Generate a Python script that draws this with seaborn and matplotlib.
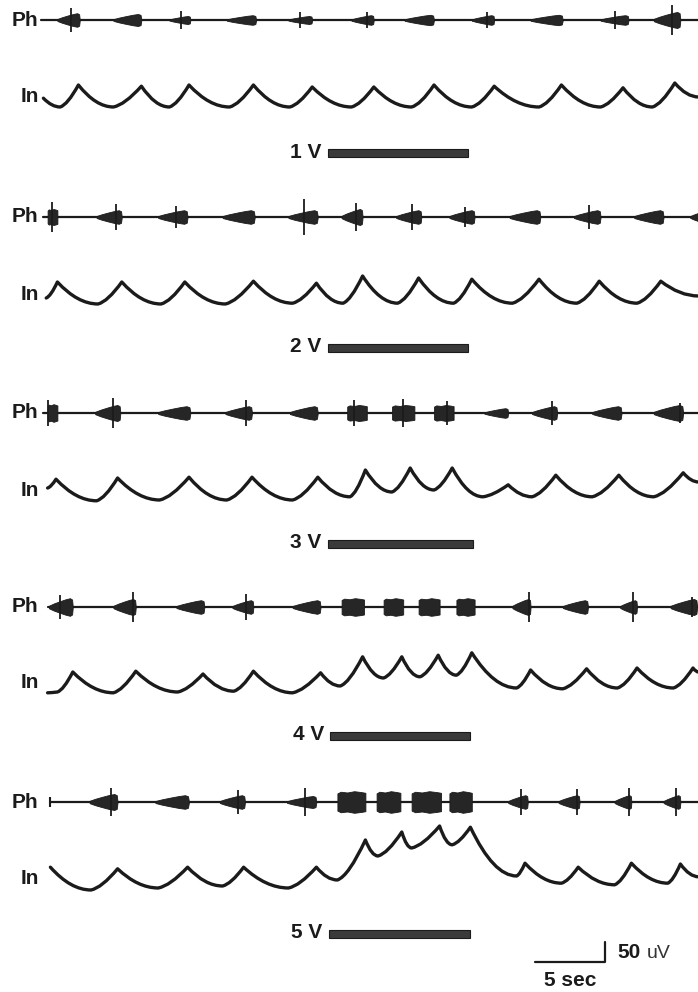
import numpy as np
import matplotlib
matplotlib.use("Agg")
import matplotlib.pyplot as plt
import seaborn as sns
from matplotlib.path import Path
from matplotlib.patches import PathPatch

# ------------------------------------------------------------------ data
# Stimulus intensities and stimulation periods (s)
stim_labels = ["1 V", "2 V", "3 V", "4 V", "5 V"]
stim_on = [20.4, 20.4, 20.4, 20.6, 20.5]
stim_off = [30.4, 30.4, 30.8, 30.6, 30.6]

# Recording start of each phrenic (Ph) trace (s)
ph_start = [-0.1, 0.1, 0.1, 0.4, 0.6]

# Phrenic bursts: onset (s), offset (s), half-amplitude (uV), shape (c=crescendo, b=block)
ph1_on = [1.1, 5.1, 9.1, 13.2, 17.6, 22.1, 25.9, 30.7, 34.9, 39.9, 43.7]
ph1_off = [2.7, 7.1, 10.6, 15.3, 19.3, 23.7, 28.0, 32.3, 37.2, 41.9, 45.6]
ph1_amp = [17, 15, 10, 12, 10, 12, 13, 12, 13, 12, 20]
ph1_kind = ["c"] * 11
ph1_spk_t = [2.1, 9.9, 18.4, 23.2, 31.8, 40.9, 45.0]
ph1_spk_a = [30, 22, 20, 20, 20, 22, 38]

ph2_on = [0.4, 3.9, 8.3, 12.9, 17.6, 21.4, 25.3, 29.1, 33.4, 38.0, 42.3, 46.3]
ph2_off = [1.1, 5.7, 10.4, 15.2, 19.7, 22.9, 27.1, 30.9, 35.6, 39.9, 44.4, 47.5]
ph2_amp = [20, 17, 17, 17, 17, 20, 17, 17, 17, 17, 17, 15]
ph2_kind = ["b"] + ["c"] * 11
ph2_spk_t = [0.7, 5.3, 9.6, 18.7, 22.4, 26.4, 30.2, 39.1]
ph2_spk_a = [38, 32, 28, 45, 35, 32, 25, 30]

ph3_on = [0.4, 3.8, 8.3, 13.1, 17.7, 21.8, 25.0, 28.0, 31.6, 35.0, 39.3, 43.7]
ph3_off = [1.1, 5.6, 10.6, 15.0, 19.7, 23.2, 26.6, 29.4, 33.3, 36.8, 41.4, 45.8]
ph3_amp = [22, 20, 17, 17, 17, 20, 20, 20, 12, 17, 17, 20]
ph3_kind = ["b", "c", "c", "c", "c", "b", "b", "b", "c", "c", "c", "c"]
ph3_spk_t = [0.4, 5.1, 14.6, 22.3, 25.8, 28.9, 36.4, 45.6]
ph3_spk_a = [32, 38, 32, 32, 35, 30, 30, 25]

ph4_on = [0.5, 5.1, 9.6, 13.6, 17.9, 21.4, 24.4, 26.9, 29.6, 33.6, 37.2, 41.3, 44.9]
ph4_off = [2.2, 6.7, 11.6, 15.1, 19.9, 23.0, 25.8, 28.4, 30.9, 34.9, 39.0, 42.5, 46.8]
ph4_amp = [22, 20, 17, 17, 17, 22, 22, 22, 22, 20, 17, 17, 20]
ph4_kind = ["c", "c", "c", "c", "c", "b", "b", "b", "b", "c", "c", "c", "c"]
ph4_spk_t = [1.3, 6.5, 14.6, 34.8, 42.2, 46.4]
ph4_spk_a = [30, 38, 32, 38, 38, 25]

ph5_on = [3.4, 8.1, 12.7, 17.5, 21.1, 23.9, 26.4, 29.1, 33.3, 36.9, 40.9, 44.4]
ph5_off = [5.4, 10.5, 14.5, 19.6, 23.1, 25.6, 28.5, 30.7, 34.7, 38.4, 42.1, 45.6]
ph5_amp = [20, 17, 17, 15, 27, 27, 27, 27, 17, 17, 17, 17]
ph5_kind = ["c", "c", "c", "c", "b", "b", "b", "b", "c", "c", "c", "c"]
ph5_spk_t = [4.9, 14.0, 18.8, 34.2, 38.2, 41.9, 45.3]
ph5_spk_a = [35, 30, 35, 32, 32, 35, 35]

# Integrated inspiratory (In) trace: vertex times (s) and levels (uV above trough)
in1_t = [0.1, 1.3, 2.6, 5.1, 7.1, 9.1, 10.5, 13.4, 15.1, 17.7, 19.3, 22.1, 23.7,
         26.4, 28.0, 30.7, 32.3, 35.5, 37.1, 39.9, 41.5, 43.6, 45.2, 46.9]
in1_v = [22, 0, 55, 0, 52, 0, 55, 0, 55, 0, 50, 0, 50,
         0, 55, 0, 52, 0, 55, 0, 48, 0, 60, 25]

in2_t = [0.3, 1.1, 4.0, 5.7, 8.5, 10.2, 13.1, 15.1, 17.9, 19.6, 21.5, 22.9,
         25.4, 26.9, 29.4, 30.7, 33.6, 35.5, 38.2, 39.8, 42.5, 44.2, 46.9]
in2_v = [15, 55, 0, 55, 0, 55, 0, 57, 2, 52, 2, 70,
         2, 65, 2, 62, 2, 62, 2, 57, 2, 57, 20]

in3_t = [0.4, 1.0, 3.9, 5.4, 8.4, 10.5, 13.2, 15.0, 17.9, 19.7, 22.0, 23.1, 25.0,
         26.3, 28.0, 29.3, 31.5, 33.3, 35.0, 36.7, 39.3, 41.2, 43.7, 45.8, 46.9]
in3_v = [30, 52, -2, 55, 0, 57, 0, 57, 0, 57, 8, 75, 20,
         80, 25, 80, 8, 38, 8, 62, 8, 62, 8, 68, 45]

in4_t = [0.4, 1.1, 2.2, 5.1, 6.7, 9.7, 11.5, 13.7, 15.1, 17.9, 19.9, 21.3, 22.9, 24.4,
         25.7, 27.0, 28.3, 29.6, 30.7, 33.9, 34.9, 37.2, 38.9, 41.1, 42.5, 45.1, 46.5, 46.9]
in4_v = [-2, 0, 50, -2, 52, 0, 45, 2, 52, -2, 48, 15, 88, 35,
         88, 38, 92, 42, 98, 10, 55, 8, 58, 10, 60, 10, 60, 50]

in5_t = [0.6, 3.5, 5.4, 8.3, 10.4, 12.9, 14.4, 17.6, 19.6, 21.1, 23.1, 24.0, 25.7,
         26.4, 28.4, 29.3, 30.6, 33.9, 34.5, 37.1, 38.3, 40.9, 42.1, 44.7, 45.6, 46.9]
in5_v = [52, -5, 48, 0, 52, 5, 52, 0, 52, 20, 120, 80, 140,
         100, 155, 108, 152, 30, 62, 12, 52, 8, 62, 12, 60, 28]

# Calibration
scale_t = 5      # s
scale_v = 50     # uV

# ------------------------------------------------------------------ layout
W, H = 698, 992
PX_PER_S = 14.0
X0_PX = 42.0
PX_PER_UV = 0.4
ph_base = [20, 217, 413, 607, 802]
in_base = [107, 304, 500, 692, 888]
bar_y = [153, 348, 544, 736, 934]
INK = "#1b1b1b"

sns.set_theme(style="white")
plt.rcParams["font.family"] = ["Liberation Sans", "DejaVu Sans"]

fig = plt.figure(figsize=(W / 100, H / 100), dpi=100)
ax = fig.add_axes([0, 0, 1, 1])
ax.set_xlim(-X0_PX / PX_PER_S, (W - X0_PX) / PX_PER_S)
ax.set_ylim(H, 0)
ax.axis("off")

shapes = {
    "c": ([0, 0.2, 0.45, 0.7, 0.88, 0.97, 1.0],
          [0.15, 0.4, 0.65, 0.88, 1.0, 0.85, 0.0]),
    "b": ([0, 0.0, 0.12, 0.35, 0.6, 0.85, 1.0, 1.0],
          [0.0, 0.8, 0.95, 0.88, 1.0, 0.92, 0.85, 0.0]),
}

ph_rows = [
    (ph1_on, ph1_off, ph1_amp, ph1_kind, ph1_spk_t, ph1_spk_a),
    (ph2_on, ph2_off, ph2_amp, ph2_kind, ph2_spk_t, ph2_spk_a),
    (ph3_on, ph3_off, ph3_amp, ph3_kind, ph3_spk_t, ph3_spk_a),
    (ph4_on, ph4_off, ph4_amp, ph4_kind, ph4_spk_t, ph4_spk_a),
    (ph5_on, ph5_off, ph5_amp, ph5_kind, ph5_spk_t, ph5_spk_a),
]
in_rows = [(in1_t, in1_v), (in2_t, in2_v), (in3_t, in3_v), (in4_t, in4_v), (in5_t, in5_v)]
t_end = (W - X0_PX) / PX_PER_S

label_kw = dict(fontsize=15, fontweight="bold", color=INK, va="center")

for i in range(5):
    base = ph_base[i]
    on, off, amp, kind, spk_t, spk_a = ph_rows[i]
    # baseline
    sns.lineplot(x=[ph_start[i], t_end + 1], y=[base, base], ax=ax, color=INK,
                 lw=1.6, estimator=None, sort=False, legend=False)
    # bursts
    for s, e, a, k in zip(on, off, amp, kind):
        fx, fy = shapes[k]
        x = s + np.array(fx) * (e - s)
        h = np.array(fy) * a * PX_PER_UV
        ax.fill_between(x, base - h, base + h, color="#262626", lw=0.6,
                        edgecolor=INK, joinstyle="miter", zorder=3)
    ax.vlines(spk_t, [base - a * PX_PER_UV for a in spk_a],
              [base + a * PX_PER_UV for a in spk_a], color=INK, lw=1.3, zorder=3)
    ax.text(-0.25, base, "Ph", ha="right", **label_kw)

    # integrated trace
    tt, vv = in_rows[i]
    ys = [in_base[i] - v * PX_PER_UV for v in vv]
    verts = [(tt[0], ys[0])]
    codes = [Path.MOVETO]
    for j in range(1, len(tt)):
        t0, y0, t1, y1 = tt[j - 1], ys[j - 1], tt[j], ys[j]
        if y1 > y0:      # decay (downwards on screen)
            c = (t0 + 0.5 * (t1 - t0), y1)
        else:            # rise
            c = (t0 + 0.4 * (t1 - t0), y0 + 0.1 * (y1 - y0))
        verts += [c, (t1, y1)]
        codes += [Path.CURVE3, Path.CURVE3]
    ax.add_patch(PathPatch(Path(verts, codes), fill=False, lw=2.4,
                           edgecolor=INK, capstyle="round", joinstyle="round", zorder=3))
    ax.text(-0.25, in_base[i] - 10, "In", ha="right", **label_kw)

    # stimulus bar
    ax.barh(bar_y[i], stim_off[i] - stim_on[i], left=stim_on[i], height=8,
            color="#3a3a3a", edgecolor=INK, lw=0.8)
    ax.text(stim_on[i] - 0.45, bar_y[i] - 1, stim_labels[i], ha="right", **label_kw)

# row 5 starting tick
ax.vlines(ph_start[4], ph_base[4] - 5, ph_base[4] + 5, color=INK, lw=1.5)

# calibration bars
sb_t1 = 35.2
sb_y = 962
sns.lineplot(x=[sb_t1, sb_t1 + scale_t, sb_t1 + scale_t],
             y=[sb_y, sb_y, sb_y - scale_v * PX_PER_UV], ax=ax, color=INK, lw=1.6,
             estimator=None, sort=False, legend=False)
ax.text(sb_t1 + scale_t / 2, sb_y + 18, f"{scale_t} sec", ha="center",
        fontsize=15, fontweight="bold", color=INK, va="center")
ax.text(sb_t1 + scale_t + 0.9, sb_y - 9, f"{scale_v}", ha="left",
        fontsize=15, fontweight="bold", color=INK, va="center")
ax.text(sb_t1 + scale_t + 3.0, sb_y - 8, "uV", ha="left",
        fontsize=14, color="#333333", va="center")

fig.savefig("out.png", dpi=100, facecolor="white")
